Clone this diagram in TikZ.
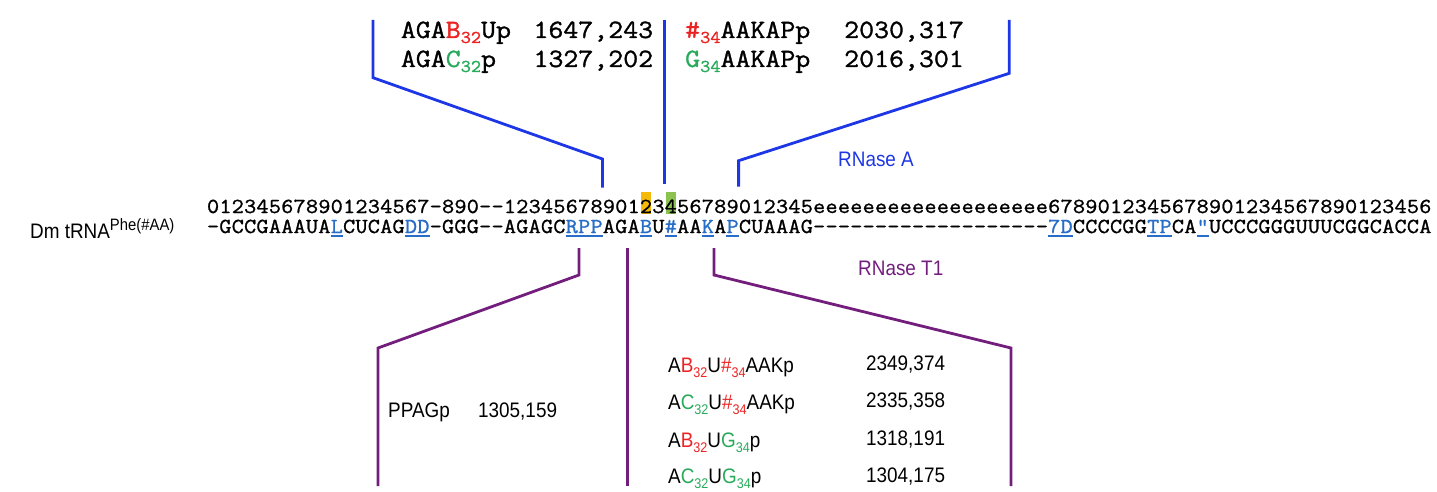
\documentclass[tikz,border=0pt]{standalone}
\usepackage{fontspec}
\setmainfont{Liberation Sans}[FakeStretch=0.9]
\newfontfamily\seqf{Latin Modern Mono}[FakeStretch=1.1,FakeBold=1.2]
\definecolor{rnaseA}{RGB}{30,55,230}
\definecolor{rnaseT}{RGB}{115,30,125}
\definecolor{redc}{RGB}{235,35,35}
\definecolor{greenc}{RGB}{40,170,90}
\definecolor{lnk}{RGB}{40,110,200}
\definecolor{hly}{RGB}{245,185,10}
\definecolor{hlg}{RGB}{140,195,80}
\newcommand\cw{12.37pt}
\def\stopmark{\relax}
\def\cells#1{\def\tmpc{#1}\ifx\tmpc\stopmark\else\makebox[\cw][c]{#1}\expandafter\cells\fi}
\newcommand\lk[1]{\textcolor{lnk}{\rlap{\rule[-3.5pt]{\cw}{1.5pt}}\makebox[\cw][c]{#1}}}
\newcommand\msub[1]{\raisebox{-5pt}{\fontsize{18}{18}\selectfont #1}}
\newcommand\ssub[1]{\raisebox{-5pt}{\fontsize{14}{14}\selectfont #1}}
\tikzset{
  seqtext/.style={anchor=base west, inner sep=0pt, text height=13pt, text depth=1pt, font=\seqf\fontsize{21.4}{21.4}\selectfont},
  toptext/.style={anchor=base west, inner sep=0pt, font=\seqf\fontsize{26.4}{26.4}\selectfont},
  bottext/.style={anchor=base west, inner sep=0pt, font=\fontsize{21}{21}\selectfont},
  lineA/.style={draw=rnaseA, line width=2.8pt, line join=miter},
  lineT/.style={draw=rnaseT, line width=2.8pt, line join=miter},
  hlbox/.style={inner sep=0pt, minimum width=10pt, minimum height=22pt, anchor=north},
}
\begin{document}
\begin{tikzpicture}[x=1pt,y=-1pt]
\useasboundingbox (0,0) rectangle (1437,492);
% highlights
\node[hlbox, fill=hly] (hl32) at (645.8,192) {};
\node[hlbox, fill=hlg] (hl34) at (670.5,192) {};
% sequence
\node[seqtext] (num) at (206.7,213) {\cells 012345678901234567-890--1234567890123456789012345eeeeeeeeeeeeeeeeeee6789012345678901234567890123456\relax};
\node[seqtext] (seq) at (206.7,233) {\cells -GCCGAAAUA{\lk{L}}CUCAG{\lk{D}}{\lk{D}}-GGG--AGAGC{\lk{R}}{\lk{P}}{\lk{P}}AGA{\lk{B}}U{\lk{\#}}AA{\lk{K}}A{\lk{P}}CUAAAG-------------------{\lk{7}}{\lk{D}}CCCCGG{\lk{T}}{\lk{P}}CA{\lk{"}}UCCCGGGUUUCGGCACCA\relax};
\node[bottext] (label) at (30,238) {Dm tRNA\raisebox{8pt}{\fontsize{16.5}{16.5}\selectfont Phe(\#AA)}};
% RNase A fragments
\node[toptext] (fa1) at (400.7,38) {AGA\textcolor{redc}{B\msub{32}}Up};
\node[toptext] (na1) at (533.3,38) {1647,243};
\node[toptext] (fa2) at (400.7,67) {AGA\textcolor{greenc}{C\msub{32}}p};
\node[toptext] (na2) at (533.3,67) {1327,202};
\node[toptext] (fa3) at (685,38) {\textcolor{redc}{\#\msub{34}}AAKAPp};
\node[toptext] (na3) at (844,38) {2030,317};
\node[toptext] (fa4) at (685,67) {\textcolor{greenc}{G\msub{34}}AAKAPp};
\node[toptext] (na4) at (844,67) {2016,301};
\node[bottext, text=rnaseA] (rA) at (838,166.7) {RNase A};
% RNase T1 fragments
\node[bottext, text=rnaseT] (rT) at (858,275) {RNase T1};
\node[bottext] (ft0) at (388,417) {PPAGp};
\node[bottext] (nt0) at (478,417) {1305,159};
\node[bottext] (ft1) at (668,372) {A\textcolor{redc}{B\ssub{32}}U\textcolor{redc}{\#\ssub{34}}AAKp};
\node[bottext] (nt1) at (866,370) {2349,374};
\node[bottext] (ft2) at (668,409) {A\textcolor{greenc}{C\ssub{32}}U\textcolor{redc}{\#\ssub{34}}AAKp};
\node[bottext] (nt2) at (866,407) {2335,358};
\node[bottext] (ft3) at (668,447) {A\textcolor{redc}{B\ssub{32}}U\textcolor{greenc}{G\ssub{34}}p};
\node[bottext] (nt3) at (866,445) {1318,191};
\node[bottext] (ft4) at (668,483) {A\textcolor{greenc}{C\ssub{32}}U\textcolor{greenc}{G\ssub{34}}p};
\node[bottext] (nt4) at (866,482) {1304,175};
% bracket coordinates
\coordinate (a1t) at (373,20);   \coordinate (a1k) at (373,77.7);
\coordinate (a1c) at (602.5,159); \coordinate (a1b) at (602.5,187.7);
\coordinate (a2t) at (664.4,20);  \coordinate (a2b) at (664.4,184);
\coordinate (a3t) at (1009.3,20); \coordinate (a3k) at (1009.3,73.3);
\coordinate (a3c) at (738.6,160.7); \coordinate (a3b) at (738.6,186.7);
\coordinate (t1t) at (579,248);  \coordinate (t1k) at (579,275);
\coordinate (t1c) at (378,348);  \coordinate (t1b) at (378,486);
\coordinate (t2t) at (627.3,248); \coordinate (t2b) at (627.3,486);
\coordinate (t3t) at (714,248);  \coordinate (t3k) at (714,275);
\coordinate (t3c) at (1011,348); \coordinate (t3b) at (1011,486);
\draw[lineA] (a1t) -- (a1k) -- (a1c) -- (a1b);
\draw[lineA] (a2t) -- (a2b);
\draw[lineA] (a3t) -- (a3k) -- (a3c) -- (a3b);
\draw[lineT] (t1t) -- (t1k) -- (t1c) -- (t1b);
\draw[lineT] (t2t) -- (t2b);
\draw[lineT] (t3t) -- (t3k) -- (t3c) -- (t3b);
\end{tikzpicture}
\end{document}
